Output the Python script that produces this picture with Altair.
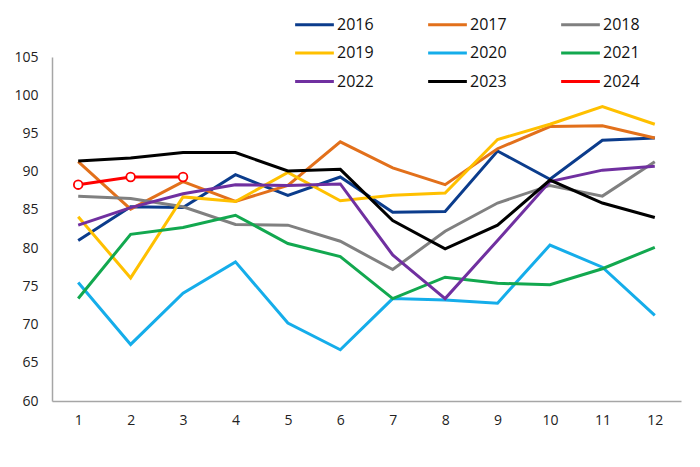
import altair as alt
import pandas as pd

months = list(range(1, 13))
years = ["2016", "2017", "2018", "2019", "2020", "2021", "2022", "2023", "2024"]
colors = ["#0B3C8C", "#E2701B", "#808080", "#FFC000", "#15ADEA",
          "#12A84F", "#7030A0", "#000000", "#FF0000"]

v2016 = [81.0, 85.4, 85.3, 89.6, 86.9, 89.3, 84.7, 84.8, 92.7, 89.0, 94.1, 94.4]
v2017 = [91.3, 85.1, 88.7, 86.1, 88.2, 93.9, 90.5, 88.3, 93.0, 95.9, 96.0, 94.4]
v2018 = [86.8, 86.5, 85.4, 83.1, 83.0, 80.9, 77.2, 82.2, 85.9, 88.2, 86.8, 91.3]
v2019 = [84.1, 76.1, 86.7, 86.1, 89.9, 86.2, 86.9, 87.2, 94.2, 96.2, 98.5, 96.2]
v2020 = [75.5, 67.4, 74.1, 78.2, 70.2, 66.7, 73.4, 73.2, 72.8, 80.4, 77.5, 71.2]
v2021 = [73.4, 81.8, 82.7, 84.3, 80.6, 78.9, 73.4, 76.2, 75.4, 75.2, 77.3, 80.1]
v2022 = [83.0, 85.3, 87.1, 88.3, 88.2, 88.4, 79.1, 73.4, 81.0, 88.7, 90.2, 90.7]
v2023 = [91.4, 91.8, 92.5, 92.5, 90.1, 90.3, 83.6, 79.9, 83.0, 88.9, 85.9, 84.0]
v2024 = [88.3, 89.3, 89.3]

series = [v2016, v2017, v2018, v2019, v2020, v2021, v2022, v2023, v2024]
rows = []
for yr, vals in zip(years, series):
    for m, v in zip(months, vals):
        rows.append({"month": m, "year": yr, "value": v})
df = pd.DataFrame(rows)
df24 = df[df["year"] == "2024"]

font = "Open Sans"

x_enc = alt.X("month:O", scale=alt.Scale(type="point", padding=0.5),
              axis=alt.Axis(title=None, labelAngle=0, ticks=False, grid=False,
                            domainColor="#A6A6A6", domainWidth=1.5,
                            labelPadding=12, labelFontSize=14,
                            labelColor="#222222", labelFont=font))
y_enc = alt.Y("value:Q", scale=alt.Scale(domain=[60, 105], nice=False, zero=False),
              axis=alt.Axis(title=None, values=list(range(60, 106, 5)), ticks=False,
                            grid=False, domainColor="#A6A6A6", domainWidth=1.5,
                            labelPadding=14, labelFontSize=14, labelOverlap=False,
                            labelColor="#222222", labelFont=font))

lines = alt.Chart(df).mark_line(strokeJoin="miter").encode(
    x=x_enc,
    y=y_enc,
    color=alt.Color("year:N", scale=alt.Scale(domain=years, range=colors),
                    legend=alt.Legend(title=None, orient="none", legendX=251, legendY=-44,
                                      direction="horizontal",
                                      columns=3, columnPadding=48, rowPadding=8.5,
                                      symbolType="M-2,0H2", symbolSize=375,
                                      symbolStrokeWidth=4, labelFontSize=16,
                                      labelFont=font, labelColor="#111111",
                                      labelOffset=11)),
    strokeWidth=alt.StrokeWidth("year:N",
                                scale=alt.Scale(domain=years, range=[3] * 8 + [5.5]),
                                legend=None),
    order=alt.Order("month:O"),
)

points = alt.Chart(df24).mark_point(filled=True, fill="white", stroke="#FF0000",
                                    strokeWidth=1.8, size=75, opacity=1).encode(
    x=x_enc,
    y=y_enc,
)

chart = alt.layer(lines, points).properties(width=629, height=344).configure_view(
    stroke=None
)

chart.save("out.html", embed_options={"renderer": "svg", "actions": False})
